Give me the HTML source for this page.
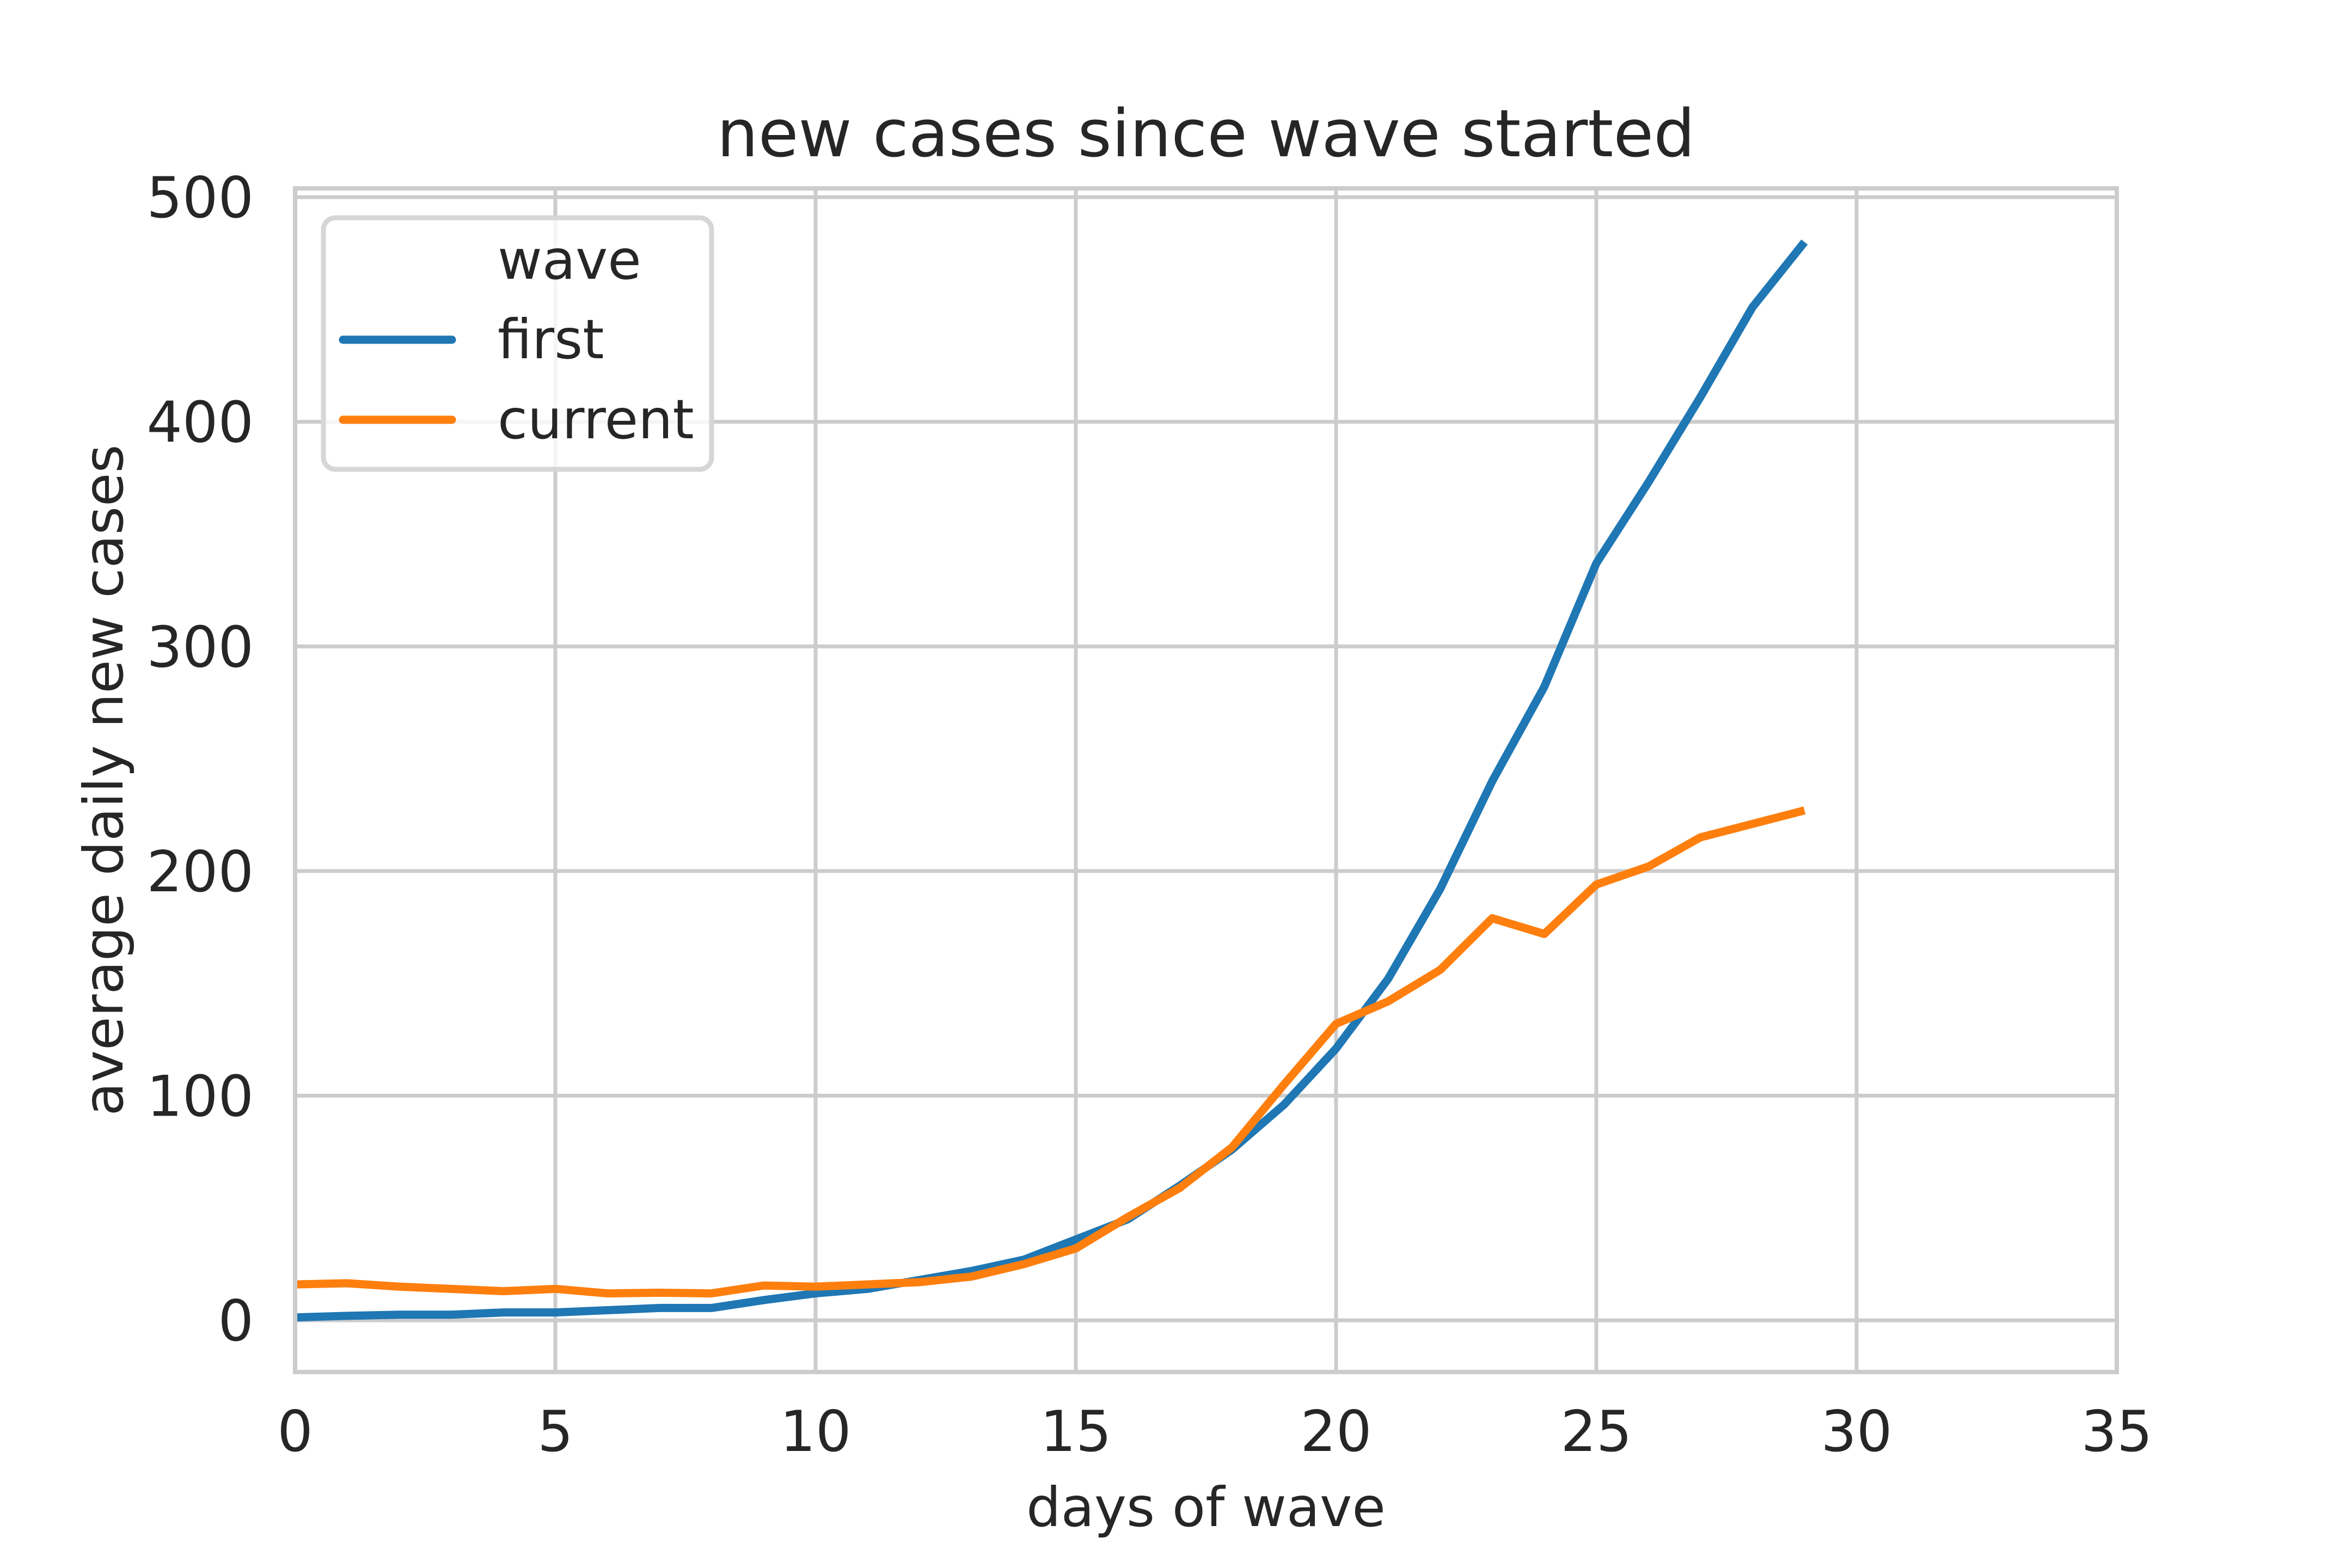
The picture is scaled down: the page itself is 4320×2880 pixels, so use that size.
<!DOCTYPE html>
<html><head><meta charset="utf-8"><style>
html,body{margin:0;padding:0;background:#fff;}
svg{display:block;}
text{font-family:"DejaVu Sans","Liberation Sans",sans-serif;fill:#262626;}
</style></head><body>
<svg id="chart" width="4320" height="2880" viewBox="0 0 4320 2880" xmlns="http://www.w3.org/2000/svg">
<rect width="4320" height="2880" fill="#fff"/>
<g id="grid"></g>
<g id="series"></g>
<rect x="542" y="346" width="3346" height="2174" fill="none" stroke="#cccccc" stroke-width="8"/>
<g id="ticks"></g>
<text x="2215" y="287" font-size="120" text-anchor="middle">new cases since wave started</text>
<text x="2215" y="2803" font-size="100" text-anchor="middle">days of wave</text>
<text x="0" y="0" font-size="100" text-anchor="middle" transform="translate(225,1433) rotate(-90)">average daily new cases</text>
<g>
<rect x="594" y="400" width="713" height="462" rx="22" fill="#fff" fill-opacity="0.8" stroke="#d6d6d6" stroke-width="9"/>
<text x="914" y="512" font-size="100">wave</text>
<line x1="630" y1="624" x2="830" y2="624" stroke="#1f77b4" stroke-width="15" stroke-linecap="round"/>
<text x="914" y="658" font-size="100">first</text>
<line x1="630" y1="771" x2="830" y2="771" stroke="#ff7f0e" stroke-width="15" stroke-linecap="round"/>
<text x="914" y="805" font-size="100">current</text>
</g>
</svg>
<script>
const days = [0,1,2,3,4,5,6,7,8,9,10,11,12,13,14,15,16,17,18,19,20,21,22,23,24,25,26,27,28,29];
const firstWave = [1.3,2,2.5,2.5,3.5,3.5,4.5,5.5,5.5,9,12,14,18,22,27,36,45,60,76,96,121,152,192,240,282,337,373,411,451,480];
const currentWave = [16,16.5,15,14,13,14,12,12.3,12,15.5,15,16,17,19.5,25,32,46,59,77,105,132,142,156,179,172,194,202,215,221,227];
const xTicks = [0,5,10,15,20,25,30,35];
const yTicks = [0,100,200,300,400,500];

const NS = "http://www.w3.org/2000/svg";
const L = 542, R = 3888, T = 346, B = 2520;
const xMin = 0, xMax = 35, yMin = -23, yMax = 503.9;
function sx(v){ return L + (v - xMin) / (xMax - xMin) * (R - L); }
function sy(v){ return B - (v - yMin) / (yMax - yMin) * (B - T); }
function mk(tag, attrs, parent){
  const el = document.createElementNS(NS, tag);
  for (const k in attrs) el.setAttribute(k, attrs[k]);
  parent.appendChild(el);
  return el;
}
const grid = document.getElementById('grid');
const ticks = document.getElementById('ticks');
xTicks.forEach(t => {
  const g = mk('line', {x1: sx(t), x2: sx(t), y1: T, y2: B, stroke: '#cccccc', 'stroke-width': 7}, grid);
  
  
  const lb = mk('text', {x: sx(t), y: 2665, 'font-size': 103, 'text-anchor': 'middle'}, ticks);
  lb.textContent = t;
  
  
});
yTicks.forEach(t => {
  const g = mk('line', {x1: L, x2: R, y1: sy(t), y2: sy(t), stroke: '#cccccc', 'stroke-width': 7}, grid);
  
  
  const lb = mk('text', {x: 466, y: sy(t) + 37, 'font-size': 103, 'text-anchor': 'end'}, ticks);
  lb.textContent = t;
  
  
});
const series = document.getElementById('series');
function drawLine(vals, color, name){
  const pts = vals.map((v, i) => sx(days[i]) + ',' + sy(v)).join(' ');
  const pl = mk('polyline', {points: pts, fill: 'none', stroke: color, 'stroke-width': 15, 'stroke-linejoin': 'round', 'stroke-linecap': 'butt'}, series);
  
  
}
drawLine(firstWave, '#1f77b4', 'first-wave-line');
drawLine(currentWave, '#ff7f0e', 'current-wave-line');
</script>
</body></html>
